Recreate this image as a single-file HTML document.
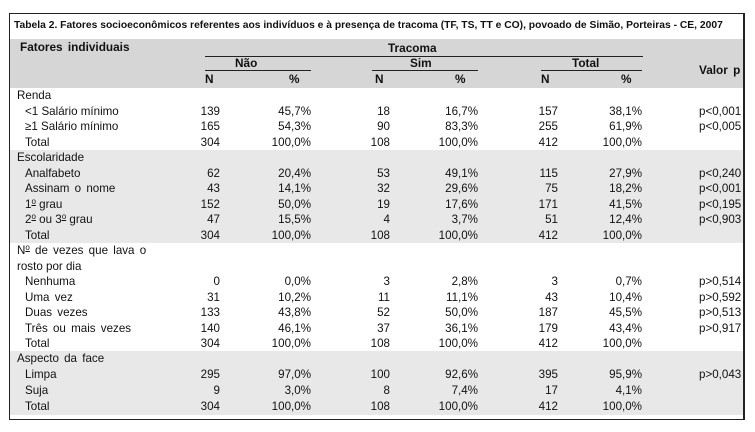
<!DOCTYPE html>
<html><head><meta charset="utf-8"><style>
html,body{margin:0;padding:0}
body{width:755px;height:432px;background:#fff;font-family:"Liberation Sans",Arial,sans-serif;color:#111;position:relative;overflow:hidden}
.box{position:absolute;left:9px;top:13px;width:736px;height:407px;border:1.5px solid #222;box-sizing:border-box;z-index:5}
.vr{position:absolute;left:743px;top:13px;width:2px;height:407px;background:#222;z-index:6}
.t{position:absolute;left:14px;top:20px;font-size:10.3px;font-weight:bold;white-space:nowrap}
.hb{position:absolute;left:10px;width:733px;top:39px;height:49px;background:#d6d6d6}
.g{position:absolute;left:10px;width:733px;background:#e8e8e8}
.h{position:absolute;font-size:11.8px;font-weight:bold;white-space:nowrap}
.ln{position:absolute;height:1.3px;background:#222}
.r{position:absolute;left:0;width:740px;height:15.5px;font-size:11.6px;line-height:15.5px;white-space:nowrap}
.r span{position:absolute;top:0}
.s{left:17px}.i{left:25px}
.c1{left:150px;width:70px;text-align:right}
.c2{left:230px;width:81px;text-align:right}
.c3{left:330px;width:60px;text-align:right}
.c4{left:400px;width:78px;text-align:right}
.c5{left:500px;width:58px;text-align:right}
.c6{left:560px;width:82px;text-align:right}
.c7{left:699px}
sup{font-size:8px;text-decoration:underline;vertical-align:4px;line-height:0}
</style></head><body>
<div class="hb"></div>
<div class="g" style="top:150px;height:93px"></div>
<div class="g" style="top:351px;height:64px"></div>
<div class="box"></div>
<div class="vr"></div>
<div class="t">Tabela 2. Fatores socioeconômicos referentes aos indivíduos e à presença de tracoma (TF, TS, TT e CO), povoado de Simão, Porteiras - CE, 2007</div>
<div class="h" style="left:20px;top:40px;word-spacing:2px">Fatores individuais</div>
<div class="h" style="left:388px;top:41px">Tracoma</div>
<div class="ln" style="left:205px;width:438px;top:56px"></div>
<div class="h" style="left:235px;top:56px">Não</div>
<div class="h" style="left:410px;top:56px">Sim</div>
<div class="h" style="left:572px;top:56px">Total</div>
<div class="h" style="left:699px;top:63px;word-spacing:2px">Valor p</div>
<div class="ln" style="left:205px;width:106px;top:70px"></div>
<div class="ln" style="left:372px;width:106px;top:70px"></div>
<div class="ln" style="left:541px;width:101px;top:70px"></div>
<div class="h" style="left:205px;top:72px">N</div><div class="h" style="left:289px;top:72px">%</div>
<div class="h" style="left:375px;top:72px">N</div><div class="h" style="left:455px;top:72px">%</div>
<div class="h" style="left:541px;top:72px">N</div><div class="h" style="left:621px;top:72px">%</div>

<div class="r" style="top:88px"><span class="s">Renda</span></div>
<div class="r" style="top:103.5px"><span class="i">&lt;1 Salário mínimo</span><span class="c1">139</span><span class="c2">45,7%</span><span class="c3">18</span><span class="c4">16,7%</span><span class="c5">157</span><span class="c6">38,1%</span><span class="c7">p&lt;0,001</span></div>
<div class="r" style="top:119px"><span class="i">≥1 Salário mínimo</span><span class="c1">165</span><span class="c2">54,3%</span><span class="c3">90</span><span class="c4">83,3%</span><span class="c5">255</span><span class="c6">61,9%</span><span class="c7">p&lt;0,005</span></div>
<div class="r" style="top:134.5px"><span class="i">Total</span><span class="c1">304</span><span class="c2">100,0%</span><span class="c3">108</span><span class="c4">100,0%</span><span class="c5">412</span><span class="c6">100,0%</span></div>

<div class="r" style="top:150px"><span class="s">Escolaridade</span></div>
<div class="r" style="top:165.5px"><span class="i">Analfabeto</span><span class="c1">62</span><span class="c2">20,4%</span><span class="c3">53</span><span class="c4">49,1%</span><span class="c5">115</span><span class="c6">27,9%</span><span class="c7">p&lt;0,240</span></div>
<div class="r" style="top:181px"><span class="i" style="word-spacing:2px">Assinam o nome</span><span class="c1">43</span><span class="c2">14,1%</span><span class="c3">32</span><span class="c4">29,6%</span><span class="c5">75</span><span class="c6">18,2%</span><span class="c7">p&lt;0,001</span></div>
<div class="r" style="top:196.5px"><span class="i">1<sup>o</sup> grau</span><span class="c1">152</span><span class="c2">50,0%</span><span class="c3">19</span><span class="c4">17,6%</span><span class="c5">171</span><span class="c6">41,5%</span><span class="c7">p&lt;0,195</span></div>
<div class="r" style="top:212px"><span class="i">2<sup>o</sup> ou 3<sup>o</sup> grau</span><span class="c1">47</span><span class="c2">15,5%</span><span class="c3">4</span><span class="c4">3,7%</span><span class="c5">51</span><span class="c6">12,4%</span><span class="c7">p&lt;0,903</span></div>
<div class="r" style="top:227.5px"><span class="i">Total</span><span class="c1">304</span><span class="c2">100,0%</span><span class="c3">108</span><span class="c4">100,0%</span><span class="c5">412</span><span class="c6">100,0%</span></div>

<div class="r" style="top:243px"><span class="s" style="word-spacing:2px">N<sup>o</sup> de vezes que  lava o</span></div>
<div class="r" style="top:258.5px"><span class="s">rosto por dia</span></div>
<div class="r" style="top:274px"><span class="i">Nenhuma</span><span class="c1">0</span><span class="c2">0,0%</span><span class="c3">3</span><span class="c4">2,8%</span><span class="c5">3</span><span class="c6">0,7%</span><span class="c7">p&gt;0,514</span></div>
<div class="r" style="top:289.5px"><span class="i" style="word-spacing:2px">Uma vez</span><span class="c1">31</span><span class="c2">10,2%</span><span class="c3">11</span><span class="c4">11,1%</span><span class="c5">43</span><span class="c6">10,4%</span><span class="c7">p&gt;0,592</span></div>
<div class="r" style="top:305px"><span class="i" style="word-spacing:2px">Duas vezes</span><span class="c1">133</span><span class="c2">43,8%</span><span class="c3">52</span><span class="c4">50,0%</span><span class="c5">187</span><span class="c6">45,5%</span><span class="c7">p&gt;0,513</span></div>
<div class="r" style="top:320.5px"><span class="i" style="word-spacing:2px">Três ou mais vezes</span><span class="c1">140</span><span class="c2">46,1%</span><span class="c3">37</span><span class="c4">36,1%</span><span class="c5">179</span><span class="c6">43,4%</span><span class="c7">p&gt;0,917</span></div>
<div class="r" style="top:336px"><span class="i">Total</span><span class="c1">304</span><span class="c2">100,0%</span><span class="c3">108</span><span class="c4">100,0%</span><span class="c5">412</span><span class="c6">100,0%</span></div>

<div class="r" style="top:351px;height:16px;line-height:16px"><span class="s" style="word-spacing:2px">Aspecto da face</span></div>
<div class="r" style="top:367px;height:16px;line-height:16px"><span class="i">Limpa</span><span class="c1">295</span><span class="c2">97,0%</span><span class="c3">100</span><span class="c4">92,6%</span><span class="c5">395</span><span class="c6">95,9%</span><span class="c7">p&gt;0,043</span></div>
<div class="r" style="top:383px;height:16px;line-height:16px"><span class="i">Suja</span><span class="c1">9</span><span class="c2">3,0%</span><span class="c3">8</span><span class="c4">7,4%</span><span class="c5">17</span><span class="c6">4,1%</span></div>
<div class="r" style="top:399px;height:16px;line-height:16px"><span class="i">Total</span><span class="c1">304</span><span class="c2">100,0%</span><span class="c3">108</span><span class="c4">100,0%</span><span class="c5">412</span><span class="c6">100,0%</span></div>
</body></html>
